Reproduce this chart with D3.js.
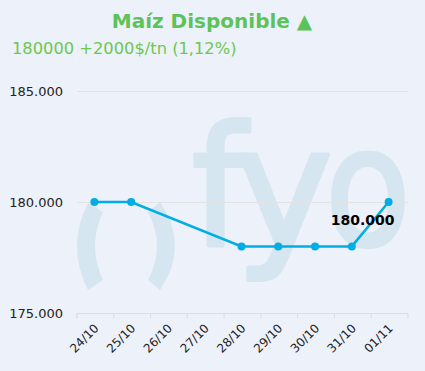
<!DOCTYPE html>
<html>
<head>
<meta charset="utf-8">
<script src="https://cdn.jsdelivr.net/npm/d3@7"></script>
<style>
  html, body { margin: 0; padding: 0; background: #edf1fa; }
  svg { display: block; font-family: "DejaVu Sans", Verdana, sans-serif; }
</style>
</head>
<body>
<svg id="chart" width="425" height="371"></svg>
<script>
// datos del grafico
var dates = ["24/10", "25/10", "26/10", "27/10", "28/10", "29/10", "30/10", "31/10", "01/11"];
var prices = [180000, 180000, null, null, 178000, 178000, 178000, 178000, 180000];
var yTicks = [175000, 180000, 185000];
var title = "Maíz Disponible ▲";
var subtitle = "180000 +2000$/tn (1,12%)";
var lastLabel = "180.000";

var width = 425, height = 371;
var margin = {top: 91, right: 17, bottom: 58, left: 77};

var svg = d3.select("#chart");

svg.append("rect")
    .attr("width", width).attr("height", height)
    .attr("fill", "#edf1fa");

var x = d3.scaleBand()
    .domain(dates)
    .range([margin.left, width - margin.right]);

var y = d3.scaleLinear()
    .domain([175000, 185000])
    .range([height - margin.bottom, margin.top]);

// marca de agua (logo)
var wm = svg.append("g").attr("fill", "#d6e6f0").attr("stroke", "#d6e6f0");
wm.append("path")
    .attr("stroke", "none")
    .attr("d", "M88,203Q66,246 88,290L103,280Q87,246 103,212Z");
wm.append("path")
    .attr("stroke", "none")
    .attr("d", "M160,202Q190,246 160,290L148,280Q166,246 148,212Z");
var letters = [["f", 219, 0.95], ["y", 284, 1], ["o", 368, 0.85]];
wm.selectAll("text.wm")
  .data(letters)
  .enter().append("text")
    .attr("class", "wm")
    .attr("transform", function(d) { return "translate(" + d[1] + ",245) scale(" + d[2] + ",1)"; })
    .attr("text-anchor", "middle")
    .attr("font-size", 165)
    .attr("stroke-width", 4)
    .attr("stroke-linejoin", "round")
    .text(function(d) { return d[0]; });

// grilla
svg.append("g")
  .selectAll("line")
  .data(yTicks.filter(function(d) { return d !== 175000; }))
  .enter().append("line")
    .attr("x1", margin.left).attr("x2", width - margin.right)
    .attr("y1", function(d) { return y(d) + 0.5; })
    .attr("y2", function(d) { return y(d) + 0.5; })
    .attr("stroke", "#e3e3e3");

// eje y
svg.append("g")
  .selectAll("text")
  .data(yTicks)
  .enter().append("text")
    .attr("x", 63)
    .attr("y", function(d) { return y(d) + 5; })
    .attr("text-anchor", "end")
    .attr("font-size", 13)
    .attr("fill", "#222")
    .text(function(d) { return d3.format(",")(d).replace(/,/g, "."); });

// eje x
var xAxis = d3.axisBottom(x).tickSize(5).tickFormat("");
var gx = svg.append("g")
    .attr("transform", "translate(0," + (y(175000) + 0.5) + ")")
    .call(xAxis);
gx.select(".domain").attr("stroke", "#dddddd").attr("d", "M" + margin.left + ",5V0H" + (width - margin.right) + "V5");
gx.selectAll(".tick line")
    .attr("stroke", "#dddddd")
    .attr("transform", function() { return "translate(" + (-x.bandwidth() / 2) + ",0)"; });

svg.append("g")
  .selectAll("text")
  .data(dates)
  .enter().append("text")
    .attr("transform", function(d) {
      return "translate(" + (x(d) + x.bandwidth() / 2 + 4) + "," + (y(175000) + 16) + ") rotate(-45)";
    })
    .attr("text-anchor", "end")
    .attr("font-size", 12)
    .attr("fill", "#222")
    .text(function(d) { return d; });

// serie
var pts = dates.map(function(d, i) { return {date: d, value: prices[i]}; })
    .filter(function(p) { return p.value !== null; });

var line = d3.line()
    .x(function(p) { return x(p.date) + x.bandwidth() / 2 - 1; })
    .y(function(p) { return y(p.value); });

svg.append("path")
    .datum(pts)
    .attr("d", line)
    .attr("fill", "none")
    .attr("stroke", "#00ade4")
    .attr("stroke-width", 2.5);

svg.append("g")
  .selectAll("circle")
  .data(pts)
  .enter().append("circle")
    .attr("cx", function(p) { return x(p.date) + x.bandwidth() / 2 - 1; })
    .attr("cy", function(p) { return y(p.value); })
    .attr("r", 4)
    .attr("fill", "#00ade4");

var last = pts[pts.length - 1];
svg.append("text")
    .attr("x", x(last.date) + x.bandwidth() / 2 - 27)
    .attr("y", y(last.value) + 23)
    .attr("text-anchor", "middle")
    .attr("font-size", 14)
    .attr("font-weight", "bold")
    .attr("fill", "#000")
    .text(lastLabel);

// titulos
svg.append("text")
    .attr("x", 212).attr("y", 28)
    .attr("text-anchor", "middle")
    .attr("font-size", 20)
    .attr("font-weight", "bold")
    .attr("fill", "#5cc35a")
    .text(title);

svg.append("text")
    .attr("x", 12).attr("y", 54)
    .attr("font-size", 16.3)
    .attr("fill", "#6cc84e")
    .text(subtitle);
</script>
</body>
</html>
